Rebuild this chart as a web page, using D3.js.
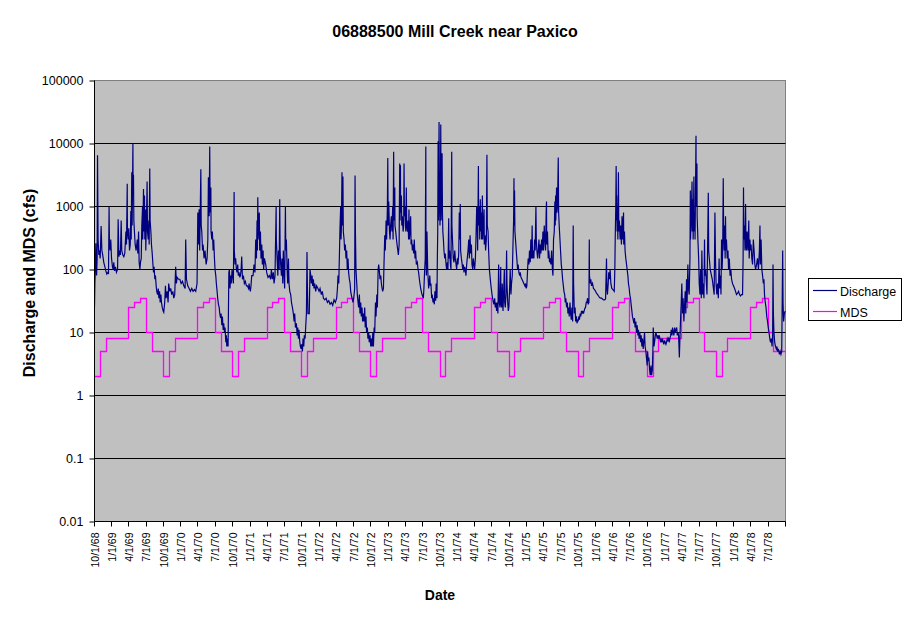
<!DOCTYPE html>
<html>
<head>
<meta charset="utf-8">
<script src="https://cdnjs.cloudflare.com/ajax/libs/d3/7.8.5/d3.min.js"></script>
<style>
body { margin: 0; background: #fff; }
text { font-family: Arial, "Liberation Sans", sans-serif; }
</style>
</head>
<body>
<svg id="chart" width="911" height="623"></svg>
<script>
// daily discharge, per water year: [days since Oct 1, cfs]
var wy1969 = [[0,25],[2,60],[4,90],[7,260],[11,80],[14,150],[16,6500],[18,800],[19,300],[23,170],[26,200],[30,150],[35,490],[39,200],[42,180],[46,150],[49,130],[55,110],[60,95],[65,85],[70,90],[74,85],[77,1000],[79,250],[83,200],[86,300],[90,150],[95,110],[99,100],[102,130],[106,95],[111,110],[116,90],[122,100],[125,630],[129,160],[134,200],[137,170],[141,600],[144,200],[150,170],[155,160],[160,180],[166,400],[169,250],[173,2300],[174,400],[178,300],[181,450],[185,200],[189,250],[192,850],[194,300],[197,3500],[199,500],[203,10000],[204,1500],[206,3200],[208,600],[211,400],[215,250],[220,200],[226,300],[229,180],[233,400],[236,130],[240,100],[243,130],[247,150],[250,500],[254,1000],[255,300],[259,1900],[261,400],[264,1500],[266,300],[270,900],[271,200],[275,700],[278,2500],[280,400],[284,300],[287,600],[289,250],[292,4000],[294,600],[298,400],[301,250],[305,180],[308,130],[312,90],[315,110],[319,70],[322,80],[326,55],[329,45],[333,40],[337,50],[340,35],[344,45],[347,30],[351,40],[354,30],[358,25],[363,22]];
var wy1970 = [[1,21],[6,30],[10,55],[13,35],[19,45],[24,30],[27,60],[33,45],[38,50],[43,40],[49,45],[54,35],[59,40],[64,110],[68,60],[72,75],[79,70],[86,70],[93,60],[100,65],[107,55],[114,50],[117,300],[121,70],[128,55],[135,50],[142,45],[149,50],[156,45],[163,48],[170,45],[177,60],[181,800],[184,250],[188,900],[191,200],[197,3900],[199,500],[202,400],[206,200],[209,250],[214,150],[219,200],[225,120],[230,150],[234,300],[237,2900],[241,700],[244,9000],[246,800],[250,2000],[251,400],[255,300],[258,400],[262,200],[265,300],[269,150],[272,100],[276,80],[279,60],[283,45],[286,35],[290,28],[294,25],[297,20],[301,17],[304,20],[308,13],[311,18],[315,11],[318,14],[322,10],[325,12],[329,7],[332,9],[334,6],[337,8],[341,6],[345,90],[348,100],[351,50],[355,80],[358,60],[362,100]];
var wy1971 = [[0,80],[4,60],[8,1700],[9,200],[13,120],[16,150],[20,100],[23,90],[27,120],[30,80],[34,90],[38,75],[41,80],[45,100],[48,160],[52,70],[57,80],[62,60],[67,65],[73,55],[78,55],[84,50],[87,60],[90,50],[94,45],[97,55],[101,80],[108,80],[113,120],[118,90],[122,300],[126,150],[129,600],[131,200],[133,1400],[135,300],[138,600],[141,800],[143,200],[147,400],[150,150],[154,250],[157,120],[161,200],[164,100],[168,150],[175,120],[180,90],[187,75],[194,80],[201,70],[205,100],[210,70],[215,90],[219,60],[224,80],[230,1000],[231,300],[235,150],[239,80],[242,200],[246,100],[249,1300],[251,200],[254,120],[258,80],[261,150],[265,60],[268,200],[272,80],[275,50],[279,1000],[281,200],[284,300],[288,100],[291,60],[295,150],[298,60],[302,45],[307,40],[311,30],[316,25],[321,20],[325,15],[328,20],[332,12],[337,14],[341,9],[344,12],[348,8],[351,11],[355,7],[358,6],[362,5.5],[364,6.5]];
var wy1972 = [[0,6],[4,5],[7,8],[11,6],[14,9],[18,8],[21,12],[25,20],[26,40],[28,190],[30,60],[33,20],[37,20],[40,20],[44,100],[48,80],[51,60],[55,80],[58,55],[62,70],[65,50],[69,60],[74,45],[79,55],[86,50],[92,45],[97,50],[104,40],[109,45],[115,35],[122,33],[129,35],[136,30],[143,32],[150,28],[157,30],[164,27],[171,33],[178,30],[185,35],[189,50],[192,80],[196,60],[199,150],[202,400],[206,1000],[208,300],[210,500],[213,3500],[215,500],[218,3000],[220,400],[224,300],[227,200],[231,250],[234,150],[238,200],[241,100],[245,150],[248,90],[252,70],[256,60],[259,45],[262,40],[266,35],[271,30],[275,35],[280,50],[282,3100],[284,400],[287,100],[291,60],[294,40],[298,30],[301,25],[305,40],[308,20],[312,30],[315,18],[319,25],[322,15],[326,20],[329,15],[333,25],[336,12],[340,18],[343,10],[347,12],[350,8],[354,10],[357,7],[361,9],[365,6]];
var wy1973 = [[2,8],[6,6],[10,10],[13,6],[17,12],[20,10],[24,30],[27,18],[31,40],[34,25],[38,100],[41,120],[45,90],[48,70],[52,80],[55,60],[59,50],[62,45],[66,50],[69,120],[73,350],[76,200],[80,600],[83,300],[87,1000],[89,5900],[91,500],[94,1200],[98,400],[101,300],[104,500],[108,700],[111,400],[115,1000],[117,300],[120,7400],[122,600],[126,2000],[127,500],[131,400],[135,300],[138,250],[142,200],[145,170],[149,250],[152,4800],[154,600],[156,4500],[157,800],[161,1500],[163,500],[166,700],[170,400],[173,500],[175,4800],[177,700],[180,1000],[184,400],[187,2000],[189,500],[193,400],[196,600],[199,300],[201,900],[203,300],[206,400],[210,700],[212,250],[215,300],[219,200],[222,250],[226,180],[229,300],[233,150],[236,200],[240,120],[245,130],[249,100],[252,90],[256,70],[259,60],[263,50],[266,45],[270,40],[273,38],[277,35],[280,50],[284,100],[287,150],[290,9000],[291,200],[293,80],[296,400],[300,100],[305,50],[311,80],[314,55],[317,60],[321,35],[324,40],[328,30],[331,35],[335,28],[338,45],[342,32],[345,60],[349,35],[351,150],[353,400],[355,10900],[357,600],[360,22000],[362,1500],[364,700]];
var wy1974 = [[0,500],[2,1000],[4,20000],[6,600],[8,1500],[11,7000],[13,800],[15,400],[18,300],[21,200],[25,150],[28,180],[32,120],[35,100],[39,130],[42,100],[46,650],[48,150],[51,200],[55,120],[58,100],[62,7400],[63,500],[67,250],[70,150],[74,130],[78,200],[81,150],[85,120],[88,100],[92,150],[95,120],[99,180],[102,800],[104,300],[107,1100],[109,200],[113,150],[116,130],[120,100],[123,120],[127,90],[130,110],[134,100],[137,80],[141,120],[144,150],[148,200],[152,300],[155,150],[159,350],[162,180],[166,250],[169,120],[173,100],[176,150],[180,120],[183,100],[187,150],[190,300],[194,1000],[197,500],[199,200],[203,4400],[204,500],[208,1000],[210,300],[213,1300],[215,400],[218,800],[220,300],[224,1500],[226,300],[229,500],[233,900],[234,250],[238,350],[241,200],[245,300],[248,6600],[250,500],[254,400],[257,200],[261,100],[264,80],[268,60],[271,50],[275,40],[278,35],[282,30],[285,28],[289,35],[292,25],[296,30],[299,22],[303,30],[306,20],[310,120],[313,30],[317,25],[321,110],[322,30],[326,25],[329,60],[333,22],[336,40],[340,100],[342,30],[345,25],[349,40],[352,200],[354,60],[358,30],[361,22],[364,25]];
var wy1975 = [[3,50],[6,100],[10,40],[13,60],[17,80],[20,200],[24,600],[26,2800],[27,500],[29,1800],[31,400],[34,300],[38,200],[41,150],[45,100],[48,120],[52,90],[56,80],[59,90],[63,75],[68,70],[73,65],[78,60],[84,55],[87,60],[91,50],[94,55],[98,100],[101,150],[105,120],[108,200],[112,130],[115,300],[119,150],[122,500],[124,150],[128,200],[131,150],[135,300],[138,200],[142,1000],[144,300],[147,200],[151,150],[154,200],[158,300],[161,150],[165,250],[168,180],[172,300],[175,200],[179,400],[182,200],[186,500],[189,300],[193,200],[196,800],[198,1200],[199,250],[203,400],[207,150],[210,200],[214,130],[217,150],[221,120],[225,200],[229,100],[232,80],[235,300],[239,400],[242,1200],[244,500],[246,1500],[247,600],[251,2000],[253,800],[256,1000],[260,6000],[262,800],[265,500],[269,300],[272,200],[276,120],[279,100],[283,70],[287,55],[290,45],[294,40],[297,30],[300,35],[304,25],[308,30],[311,20],[315,25],[318,18],[322,30],[325,20],[329,16],[332,25],[336,15],[339,500],[341,60],[345,20],[349,25],[352,15],[356,18],[359,14],[363,16]];
var wy1976 = [[0,15],[4,18],[7,16],[11,20],[14,18],[18,22],[21,20],[25,22],[28,20],[32,22],[35,24],[39,25],[43,30],[46,30],[50,35],[53,28],[57,30],[59,300],[60,80],[64,60],[67,70],[71,55],[76,60],[81,50],[87,48],[92,45],[97,42],[103,40],[108,38],[113,36],[119,35],[124,35],[129,34],[134,33],[140,33],[145,34],[150,150],[152,50],[155,40],[159,60],[162,90],[166,70],[169,100],[173,60],[178,50],[184,48],[191,45],[194,100],[196,300],[199,1000],[201,4400],[203,600],[204,1500],[206,400],[208,1000],[210,300],[213,3500],[215,400],[218,600],[222,300],[225,500],[229,250],[232,700],[236,300],[240,800],[241,250],[245,400],[248,200],[252,150],[256,120],[259,100],[263,80],[266,60],[270,50],[273,40],[277,35],[280,28],[284,22],[287,18],[291,16],[295,14],[298,17],[301,12],[305,15],[308,10],[312,13],[316,9],[319,11],[322,8],[326,10],[330,7],[333,9],[337,6],[340,8],[344,5.5],[347,7],[351,10],[354,6],[358,5],[361,4],[365,3]];
var wy1977 = [[1,5],[5,3.5],[8,4],[12,2.5],[15,2.1],[19,3],[22,2.1],[26,2.5],[29,5],[31,12],[35,6],[38,7],[42,9],[45,10],[49,9],[52,8],[56,9],[59,8],[63,9],[66,8],[70,7],[73,8],[77,7],[80,8],[84,7],[87,6.5],[91,7.5],[94,7],[98,6.5],[101,7],[105,8],[108,7.5],[112,8],[115,7],[119,8],[123,9],[126,11],[130,9],[133,12],[137,10],[140,9],[144,12],[147,10],[151,11],[155,12],[158,9],[162,10],[165,9],[169,4],[172,8],[175,15],[179,30],[182,60],[186,20],[189,35],[193,15],[196,25],[200,45],[203,20],[207,70],[210,30],[214,120],[217,50],[221,40],[225,150],[227,1800],[228,300],[232,700],[236,2500],[237,400],[240,1300],[242,300],[246,3000],[247,400],[251,800],[252,300],[257,13300],[258,1000],[262,4800],[263,700],[267,300],[271,150],[274,60],[278,40],[281,100],[285,35],[288,200],[292,40],[295,60],[299,35],[302,300],[304,80],[308,100],[315,40],[322,1650],[324,200],[332,100],[343,70],[353,40],[357,800],[360,150],[363,60]];
var wy1978 = [[2,40],[6,60],[10,35],[14,150],[17,50],[21,80],[24,40],[27,300],[30,100],[33,200],[36,2800],[38,400],[41,200],[44,500],[46,150],[48,700],[50,200],[53,300],[57,150],[61,200],[64,100],[68,150],[72,80],[76,100],[80,70],[85,60],[90,55],[96,50],[101,45],[106,40],[112,42],[117,45],[122,40],[127,38],[132,40],[138,40],[141,150],[143,2000],[145,300],[148,500],[151,200],[154,1100],[156,250],[159,200],[162,400],[164,300],[167,200],[171,600],[173,150],[177,300],[180,200],[183,250],[187,150],[191,120],[195,300],[199,200],[203,120],[207,100],[212,120],[217,150],[222,100],[227,200],[230,500],[232,120],[236,300],[240,100],[244,80],[248,60],[251,70],[254,40],[258,30],[262,25],[266,18],[270,15],[274,12],[278,10],[282,8],[286,7],[290,8],[294,6],[297,9],[299,120],[301,20],[304,10],[308,7],[312,6],[316,5.5],[320,6],[323,5],[327,5.5],[330,5],[333,4.5],[337,5],[341,4.5],[345,5],[348,40],[350,200],[352,30],[355,15],[359,20],[364,22]];

var waterYears = [1969, 1970, 1971, 1972, 1973, 1974, 1975, 1976, 1977, 1978];
var discharge = [wy1969, wy1970, wy1971, wy1972, wy1973, wy1974, wy1975, wy1976, wy1977, wy1978];

// minimum desirable streamflow, Oct .. Sep
var mdsMonths = ["Oct","Nov","Dec","Jan","Feb","Mar","Apr","May","Jun","Jul","Aug","Sep"];
var mdsValues = [2, 5, 8, 8, 8, 8, 25, 30, 35, 10, 5, 5];

var yTicks = [0.01, 0.1, 1, 10, 100, 1000, 10000, 100000];
var yTickLabels = ["0.01", "0.1", "1", "10", "100", "1000", "10000", "100000"];

var svg = d3.select("#chart");

// plot area edges (don't use "top" - it's window.top)
var pLeft = 94.5, pRight = 785.5, pTop = 80.5, pBottom = 521.5;
var startDate = new Date(1968, 9, 1), endDate = new Date(1978, 9, 1);

var x = d3.scaleTime().domain([startDate, endDate]).range([pLeft, pRight]);
var y = d3.scaleLog().domain([0.01, 100000]).range([pBottom, pTop]);

// build the series
var qData = [];
waterYears.forEach(function(wy, i) {
	var base = new Date(wy - 1, 9, 1);
	discharge[i].forEach(function(p) {
		qData.push({ date: d3.timeDay.offset(base, p[0]), value: p[1] });
	});
});

var mdsData = [];
waterYears.forEach(function(wy) {
	mdsValues.forEach(function(v, m) {
		mdsData.push({ date: new Date(wy - 1, 9 + m, 1), value: v });
	});
});
mdsData.push({ date: new Date(1978, 8, 30), value: mdsValues[11] });

// snap to pixel centres so 1px lines stay solid
function snap(v) { return Math.round(v - 0.5) + 0.5; }

// plot area
svg.append("rect")
	.attr("x", pLeft).attr("y", pTop)
	.attr("width", pRight - pLeft).attr("height", pBottom - pTop)
	.attr("fill", "#C0C0C0")
	.attr("stroke", "#808080");

// gridlines
svg.append("g").selectAll("line")
	.data(yTicks.slice(1, -1))
	.enter().append("line")
	.attr("x1", pLeft).attr("x2", pRight)
	.attr("y1", function(d) { return snap(y(d)); })
	.attr("y2", function(d) { return snap(y(d)); })
	.attr("stroke", "#000");

svg.append("clipPath").attr("id", "clip")
	.append("rect").attr("x", pLeft).attr("y", pTop).attr("width", pRight - pLeft + 1).attr("height", pBottom - pTop);

var line = d3.line()
	.x(function(d) { return x(d.date); })
	.y(function(d) { return y(d.value); });

var stepLine = d3.line()
	.curve(d3.curveStepAfter)
	.x(function(d) { return snap(x(d.date)); })
	.y(function(d) { return snap(y(d.value)); });

var plot = svg.append("g").attr("clip-path", "url(#clip)");

plot.append("path")
	.datum(mdsData)
	.attr("d", stepLine)
	.attr("fill", "none")
	.attr("stroke", "#FF00FF")
	.attr("stroke-width", 1.3);

plot.append("path")
	.datum(qData)
	.attr("d", line)
	.attr("fill", "none")
	.attr("stroke", "#000080")
	.attr("stroke-width", 1.2)
	.attr("stroke-linejoin", "miter");

// axis lines
svg.append("line").attr("x1", pLeft).attr("x2", pLeft).attr("y1", pTop).attr("y2", pBottom).attr("stroke", "#000");
svg.append("line").attr("x1", pLeft).attr("x2", pRight).attr("y1", pBottom).attr("y2", pBottom).attr("stroke", "#000");

// y axis
var yAxis = svg.append("g").attr("transform", "translate(" + pLeft + ",0)")
	.call(d3.axisLeft(y).tickValues(yTicks)
		.tickFormat(function(d, i) { return yTickLabels[i]; })
		.tickSize(5).tickSizeOuter(0).tickPadding(6));
yAxis.select(".domain").remove();
yAxis.selectAll("line").attr("stroke", "#000");
yAxis.selectAll("text").attr("font-size", "12.5px").attr("font-family", "Arial, 'Liberation Sans', sans-serif").attr("fill", "#000");

// x axis, quarterly
var xTicks = d3.timeMonth.every(3).range(startDate, d3.timeDay.offset(endDate, 1));
var fmt = function(d) { return (d.getMonth() + 1) + "/" + d.getDate() + "/" + String(d.getFullYear()).slice(2); };

var xg = svg.append("g");
xg.selectAll("line").data(xTicks).enter().append("line")
	.attr("x1", function(d) { return snap(x(d)); })
	.attr("x2", function(d) { return snap(x(d)); })
	.attr("y1", pBottom).attr("y2", pBottom + 5)
	.attr("stroke", "#000");
xg.selectAll("text").data(xTicks.slice(0, -1)).enter().append("text")
	.attr("transform", function(d) { return "translate(" + (Math.round(x(d)) + 4) + "," + (pBottom + 11) + ") rotate(-90)"; })
	.attr("text-anchor", "end")
	.attr("font-size", "10.5px")
	.text(fmt);

// titles
svg.append("text")
	.attr("x", 455).attr("y", 37)
	.attr("text-anchor", "middle")
	.attr("font-size", "16px").attr("font-weight", "bold")
	.text("06888500 Mill Creek near Paxico");

svg.append("text")
	.attr("x", 440).attr("y", 600)
	.attr("text-anchor", "middle")
	.attr("font-size", "14px").attr("font-weight", "bold")
	.text("Date");

svg.append("text")
	.attr("transform", "translate(35,283) rotate(-90)")
	.attr("text-anchor", "middle")
	.attr("font-size", "16px").attr("font-weight", "bold")
	.text("Discharge and MDS (cfs)");

// legend
var legend = svg.append("g");
legend.append("rect")
	.attr("x", 808.5).attr("y", 278.5).attr("width", 93).attr("height", 42)
	.attr("fill", "#fff").attr("stroke", "#000");
var legendItems = [{ name: "Discharge", color: "#000080" }, { name: "MDS", color: "#FF00FF" }];
legendItems.forEach(function(d, i) {
	var ly = 290.5 + i * 21;
	legend.append("line").attr("x1", 813).attr("x2", 837).attr("y1", ly).attr("y2", ly)
		.attr("stroke", d.color).attr("stroke-width", 1.2);
	legend.append("text").attr("x", 840).attr("y", ly + 5)
		.attr("font-size", "12.5px").text(d.name);
});
</script>
</body>
</html>
